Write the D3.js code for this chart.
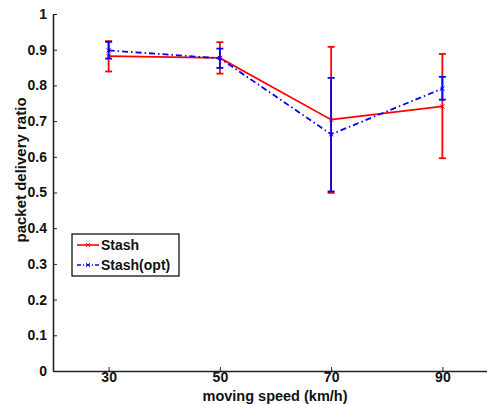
<!DOCTYPE html>
<html>
<head>
<meta charset="utf-8">
<script src="https://cdn.jsdelivr.net/npm/d3@7"></script>
<style>
  body { margin: 0; background: #fff; }
  svg { display: block; font-family: "Liberation Sans", Arial, sans-serif; }
</style>
</head>
<body>
<svg></svg>
<script>
const speeds = [30, 50, 70, 90];
const xTicks = [30, 50, 70, 90];
const yTicks = [0, 0.1, 0.2, 0.3, 0.4, 0.5, 0.6, 0.7, 0.8, 0.9, 1];

const stash = [0.882, 0.877, 0.704, 0.741];
const stashLow = [0.839, 0.833, 0.499, 0.596];
const stashHigh = [0.924, 0.921, 0.908, 0.888];

const opt = [0.898, 0.876, 0.663, 0.791];
const optLow = [0.875, 0.849, 0.503, 0.760];
const optHigh = [0.922, 0.903, 0.821, 0.824];

const seriesNames = ['Stash', 'Stash(opt)'];

const [width, height] = [487, 404];
const margin = {top: 14, right: -11, bottom: 33, left: 53};

const svg = d3.select('svg')
  .attr('width', width)
  .attr('height', height);

const x = d3.scaleLinear()
  .domain([20, 100])
  .range([margin.left, width - margin.right]);

const y = d3.scaleLinear()
  .domain([0, 1])
  .range([height - margin.bottom, margin.top]);

const series = [
  {name: seriesNames[0], color: '#ff0000', dash: null,
   values: speeds.map((s, i) => ({s, v: stash[i], lo: stashLow[i], hi: stashHigh[i]}))},
  {name: seriesNames[1], color: '#0000ff', dash: '6,3,1.5,3',
   values: speeds.map((s, i) => ({s, v: opt[i], lo: optLow[i], hi: optHigh[i]}))},
];

// axes (matlab style, ticks inside)
const xAxis = d3.axisBottom(x).tickValues(xTicks).tickSize(-4).tickSizeOuter(0).tickPadding(3);
const yAxis = d3.axisLeft(y).tickValues(yTicks).tickSize(-4).tickSizeOuter(0).tickPadding(6)
  .tickFormat(d => d === 0 || d === 1 ? d : d.toFixed(1));

const gx = svg.append('g')
  .attr('transform', `translate(0,${y(0)})`)
  .call(xAxis);
const gy = svg.append('g')
  .attr('transform', `translate(${x(20)},0)`)
  .call(yAxis);

[gx, gy].forEach(g => {
  g.select('.domain').attr('stroke', '#222').attr('stroke-width', 1.6);
  g.selectAll('.tick line').attr('stroke', '#222').attr('stroke-width', 1);
  g.selectAll('.tick text')
    .attr('fill', '#111')
    .attr('font-size', 14)
    .attr('font-weight', 'bold')
    .attr('font-family', '"Liberation Sans", Arial, sans-serif');
});
gx.selectAll('.tick text').attr('dy', '0.6em');

// axis labels
svg.append('text')
  .attr('x', 275)
  .attr('y', 401)
  .attr('text-anchor', 'middle')
  .attr('font-size', 14.5)
  .attr('font-weight', 'bold')
  .attr('fill', '#111')
  .text('moving speed (km/h)');

svg.append('text')
  .attr('transform', 'translate(26,170) rotate(-90)')
  .attr('text-anchor', 'middle')
  .attr('font-size', 15)
  .attr('font-weight', 'bold')
  .attr('fill', '#111')
  .text('packet delivery ratio');

const line = d3.line().x(d => x(d.s)).y(d => y(d.v));
const cap = 3.5;

series.forEach(sr => {
  const g = svg.append('g');
  g.append('path')
    .datum(sr.values)
    .attr('fill', 'none')
    .attr('stroke', sr.color)
    .attr('stroke-width', 1.8)
    .attr('stroke-dasharray', sr.dash)
    .attr('d', line);

  const eb = g.selectAll('.eb').data(sr.values).join('g');
  eb.append('line')
    .attr('x1', d => x(d.s)).attr('x2', d => x(d.s))
    .attr('y1', d => y(d.lo)).attr('y2', d => y(d.hi))
    .attr('stroke', sr.color).attr('stroke-width', 1.8);
  ['lo', 'hi'].forEach(k => {
    eb.append('line')
      .attr('x1', d => x(d.s) - cap).attr('x2', d => x(d.s) + cap)
      .attr('y1', d => y(d[k])).attr('y2', d => y(d[k]))
      .attr('stroke', sr.color).attr('stroke-width', 1.8);
  });
  // x markers
  eb.append('path')
    .attr('d', d => {
      const cx = x(d.s), cy = y(d.v), r = 2;
      return `M${cx - r},${cy - r}L${cx + r},${cy + r}M${cx - r},${cy + r}L${cx + r},${cy - r}`;
    })
    .attr('stroke', sr.color).attr('stroke-width', 1);
});

// legend
const legend = svg.append('g').attr('transform', 'translate(72,234)');
legend.append('rect')
  .attr('width', 107).attr('height', 42)
  .attr('fill', '#fff').attr('stroke', '#000').attr('stroke-width', 1.2);

series.forEach((sr, i) => {
  const ly = 11 + i * 20;
  legend.append('line')
    .attr('x1', 5).attr('x2', 27).attr('y1', ly).attr('y2', ly)
    .attr('stroke', sr.color).attr('stroke-width', 1.6)
    .attr('stroke-dasharray', sr.dash ? '4,2,1,2' : null);
  legend.append('path')
    .attr('d', `M14,${ly - 2}L18,${ly + 2}M14,${ly + 2}L18,${ly - 2}`)
    .attr('stroke', sr.color).attr('stroke-width', 1);
  legend.append('text')
    .attr('x', 29).attr('y', ly + 5)
    .attr('font-size', 14)
    .attr('font-weight', 'bold')
    .attr('fill', '#111')
    .text(sr.name);
});
</script>
</body>
</html>
